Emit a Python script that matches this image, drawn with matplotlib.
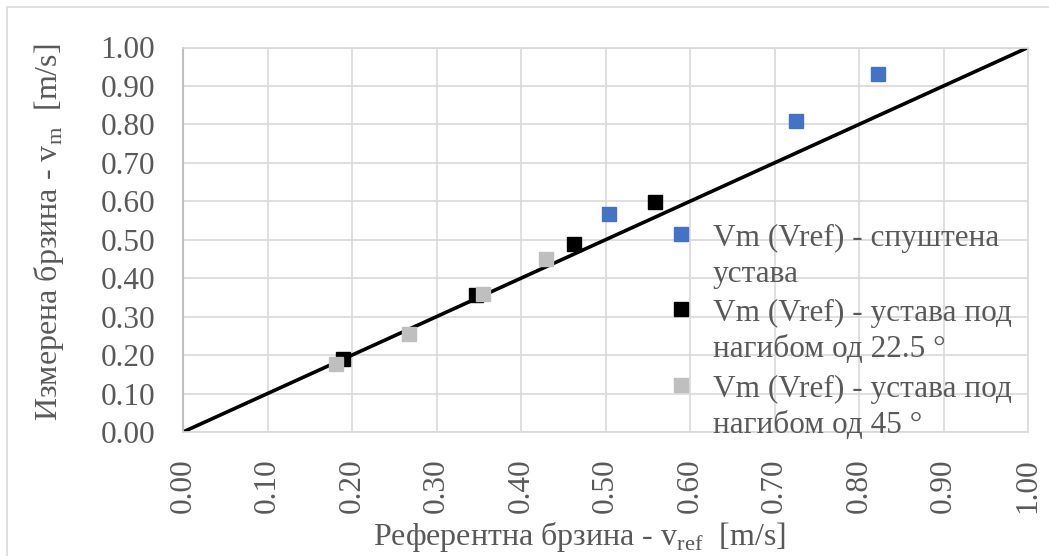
import matplotlib.pyplot as plt
from matplotlib.patches import Rectangle

plt.rcParams['font.family'] = ['Liberation Serif', 'DejaVu Serif']
plt.rcParams['mathtext.fontset'] = 'custom'
plt.rcParams['mathtext.rm'] = 'Liberation Serif'

TXT = '#595959'
GRID = '#d9d9d9'

# измерени брзини: спуштена устава
vref_down = [0.504, 0.726, 0.822]
vm_down = [0.567, 0.808, 0.931]

# устава под нагибом од 22.5 степени
vref_225 = [0.189, 0.347, 0.463, 0.559]
vm_225 = [0.190, 0.356, 0.489, 0.597]

# устава под нагибом од 45 степени
vref_45 = [0.181, 0.267, 0.355, 0.430]
vm_45 = [0.176, 0.256, 0.358, 0.451]

ideal = [0.0, 1.0]
ticks = [i / 10 for i in range(11)]

labels = [
    'Vm (Vref) - спуштена\nустава',
    'Vm (Vref) - устава под\nнагибом од 22.5 °',
    'Vm (Vref) - устава под\nнагибом од 45 °',
]
colors = ['#4472c4', '#000000', '#bfbfbf']

W, H = 1049, 556
fig = plt.figure(figsize=(W / 100, H / 100), dpi=100)
ax = fig.add_axes([183 / W, 1 - 432 / H, (1028 - 183) / W, (432 - 47.5) / H])

ax.plot(ideal, ideal, color='black', lw=2.6, zorder=2)
for xs, ys, c in zip([vref_down, vref_225, vref_45], [vm_down, vm_225, vm_45], colors):
    ax.plot(xs, ys, 's', ms=10, color=c, mec=c, zorder=3, clip_on=False)

ax.set_xlim(0, 1)
ax.set_ylim(0, 1)
ax.set_xticks(ticks)
ax.set_yticks(ticks)
ax.set_xticklabels([f'{t:.2f}' for t in ticks], rotation=90)
ax.set_yticklabels([f'{t:.2f}' for t in ticks])
ax.tick_params(length=0, labelsize=22.5, colors=TXT)
ax.tick_params(axis='y', pad=20)
ax.tick_params(axis='x', pad=19)
ax.grid(True, color=GRID, lw=1.2, zorder=0)
ax.set_axisbelow(True)
for s in ['top', 'right', 'bottom']:
    ax.spines[s].set_color(GRID)
    ax.spines[s].set_linewidth(1.2)
ax.spines['left'].set_color('#bfbfbf')
ax.spines['left'].set_linewidth(1.5)

ax.set_xlabel(r'Референтна брзина - v$_{\mathregular{ref}}$  [m/s]', fontsize=23, color=TXT)
ax.set_ylabel(r'Измерена брзина - v$_{\mathregular{m}}$  [m/s]', fontsize=23, color=TXT)
ax.xaxis.set_label_coords(0.469, -0.229)
ax.yaxis.set_label_coords(-0.138, 0.52)

# легенда: маркер до првиот ред од секоја ставка
leg_x, mark_x = 713, 681
first_base = [246, 321, 397]
for lab, c, y0 in zip(labels, colors, first_base):
    fig.lines.append(plt.Line2D([mark_x / W], [1 - (y0 - 12) / H], ls='', marker='s',
                                ms=10, color=c, transform=fig.transFigure))
    for k, line in enumerate(lab.split('\n')):
        fig.text(leg_x / W, 1 - (y0 + 36 * k) / H, line, fontsize=22.5,
                 color=TXT, va='baseline', ha='left')

# рамка околу графиконот
fig.patches.append(Rectangle((6.5 / W, -0.1), 1.2, 1 - 7 / H + 0.1,
                             transform=fig.transFigure, fill=False,
                             ec=GRID, lw=1.2))

fig.savefig('out.png', dpi=100)
